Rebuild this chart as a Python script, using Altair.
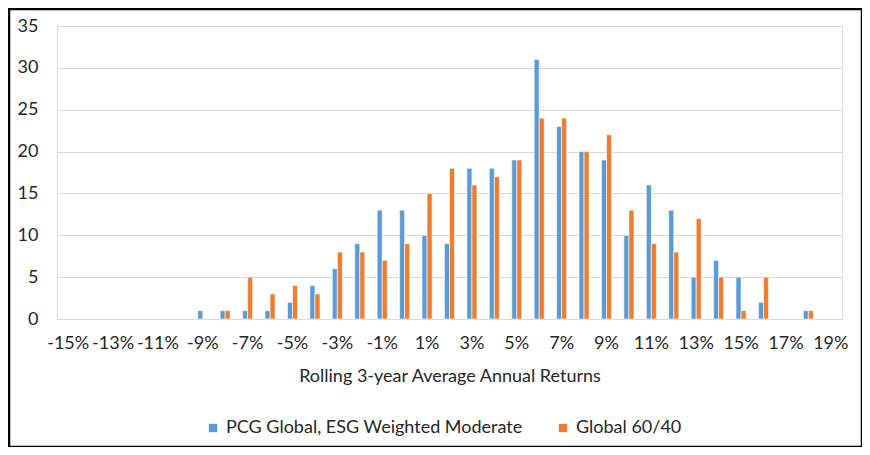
import altair as alt
import pandas as pd

categories = [f"{v}%" for v in range(-15, 20)]
series_names = ["PCG Global, ESG Weighted Moderate", "Global 60/40"]
pcg_values = [0, 0, 0, 0, 0, 0, 1, 1, 1, 1, 2, 4, 6, 9, 13, 13, 10, 9, 18, 18,
              19, 31, 23, 20, 19, 10, 16, 13, 5, 7, 5, 2, 0, 1, 0]
g6040_values = [0, 0, 0, 0, 0, 0, 0, 1, 5, 3, 4, 3, 8, 8, 7, 9, 15, 18, 16, 17,
                19, 24, 24, 20, 22, 13, 9, 8, 12, 5, 1, 5, 0, 1, 0]
x_tick_labels = [f"{v}%" for v in range(-15, 20, 2)]
y_ticks = [0, 5, 10, 15, 20, 25, 30, 35]
x_title = "Rolling 3-year Average Annual Returns"

rows = []
for c, a, b in zip(categories, pcg_values, g6040_values):
    rows.append({"cat": c, "series": series_names[0], "value": a})
    rows.append({"cat": c, "series": series_names[1], "value": b})
df = pd.DataFrame(rows)

FONT = "Lato"
TXT = "#262626"
FS = 18
W, H = 785, 293

bars = alt.Chart(df).transform_filter("datum.value > 0").mark_bar(
    stroke="white", strokeWidth=0.6
).encode(
    x=alt.X("cat:N", sort=categories,
            scale=alt.Scale(domain=categories, paddingInner=0.55,
                            paddingOuter=0.275),
            axis=alt.Axis(values=x_tick_labels, title=x_title, labelAngle=0,
                          labelOverlap=False, ticks=False, domain=False,
                          labelPadding=15, titlePadding=15,
                          labelFontSize=FS, titleFontSize=FS,
                          titleFontWeight="normal",
                          labelColor=TXT, titleColor=TXT,
                          labelFont=FONT, titleFont=FONT)),
    xOffset=alt.XOffset("series:N",
                        scale=alt.Scale(domain=series_names,
                                        paddingInner=0, paddingOuter=0)),
    y=alt.Y("value:Q",
            scale=alt.Scale(domain=[0, 35], nice=False),
            axis=alt.Axis(values=y_ticks, title=None, ticks=False,
                          domain=False, labelPadding=19, labelFontSize=FS,
                          labelColor=TXT, labelFont=FONT,
                          gridColor="#d9d9d9", gridWidth=1.2)),
    color=alt.Color("series:N",
                    scale=alt.Scale(domain=series_names,
                                    range=["#5b9bd5", "#ed7d31"]),
                    legend=alt.Legend(title=None, orient="none",
                                      direction="horizontal",
                                      legendX=147, legendY=393,
                                      symbolType="square", symbolSize=70,
                                      symbolStrokeWidth=0,
                                      labelFontSize=FS, labelFont=FONT,
                                      labelColor=TXT, columnPadding=31,
                                      labelOffset=4, labelLimit=0)),
)

border = alt.Chart(pd.DataFrame({"k": [0]})).mark_rect(
    fill=None, stroke="black", strokeWidth=2.5
).encode(
    x=alt.value(-48), x2=alt.value(805),
    y=alt.value(-17), y2=alt.value(421),
)

chart = alt.layer(bars, border).properties(
    width=W, height=H,
    autosize=alt.AutoSizeParams(type="none"),
    padding={"left": 49, "top": 18, "right": 20, "bottom": 128},
).configure_view(stroke=None).configure(background="white")

chart.save("out.html", embed_options={"renderer": "svg", "actions": False})
